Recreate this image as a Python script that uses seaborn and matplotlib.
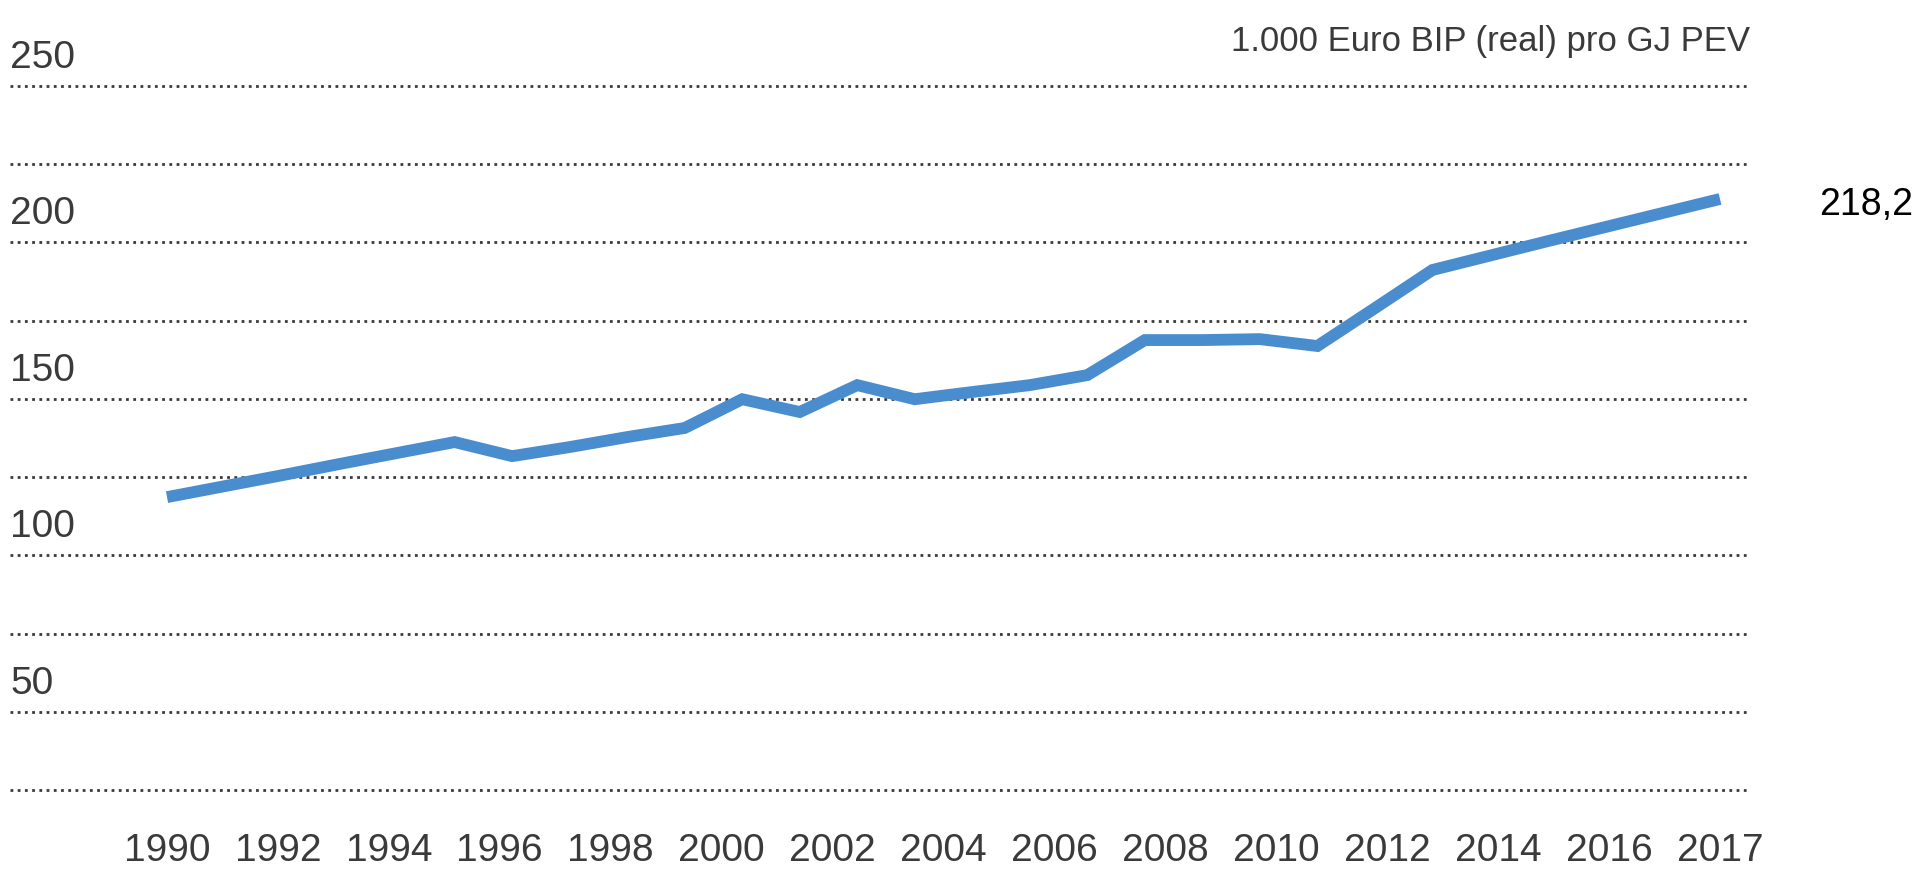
"""
Energy productivity line chart: 1.000 Euro BIP (real) pro GJ PEV, 1990-2017.
"""

import matplotlib

matplotlib.use("Agg")

import matplotlib.pyplot as plt
import numpy as np
import pandas as pd
import seaborn as sns
from matplotlib import font_manager

# --- data ------------------------------------------------------------------
years = list(range(1990, 2018))
values = [
    118.6, 122.1, 125.6, 129.2, 132.7, 136.2, 131.7, 134.6, 137.8, 140.7,
    149.9, 145.8, 154.4, 149.9, 152.2, 154.4, 157.6, 168.8, 168.8, 169.1,
    166.9, 179.0, 191.2, 195.8, 200.4, 204.9, 209.4, 213.9,
]
tick_labels = [
    "1990", "1992", "1994", "1996", "1998", "2000", "2002", "2004",
    "2006", "2008", "2010", "2012", "2014", "2016", "2017",
]
grid_values = [25, 50, 75, 100, 125, 150, 175, 200, 225, 250]
y_labels = [50, 100, 150, 200, 250]
unit_label = "1.000 Euro BIP (real) pro GJ PEV"
end_label = "218,2"

LINE_COLOR = "#4a8dcf"
TEXT_COLOR = "#3a3a3a"
GRID_COLOR = "#3a3a3a"

df = pd.DataFrame({"year": years, "value": values})

sns.set_style("white")

# a narrow face is closest to the condensed type of the original
installed = {f.name for f in font_manager.fontManager.ttflist}
if "Liberation Sans Narrow" in installed:
    label_font, label_size, title_size = "Liberation Sans Narrow", 33, 30
elif "DejaVu Sans Condensed" in installed:
    label_font, label_size, title_size = "DejaVu Sans Condensed", 27, 24
else:
    label_font, label_size, title_size = "Liberation Sans", 28, 25
plain_font = "Liberation Sans" if "Liberation Sans" in installed else "DejaVu Sans"
plt.rcParams["font.family"] = [label_font, "DejaVu Sans"]

fig = plt.figure(figsize=(19.23, 8.82), dpi=100)
ax = fig.add_axes([0.0052, 0.0866, 0.9048, 0.8336])

sns.lineplot(
    data=df, x="year", y="value", ax=ax,
    color=LINE_COLOR, linewidth=8.5, solid_joinstyle="miter",
    solid_capstyle="butt", zorder=3,
)

# dotted horizontal guides
ax.set_yticks(grid_values)
ax.yaxis.grid(True, color=GRID_COLOR, linestyle=(0, (1, 1.6)), linewidth=2.0)
ax.xaxis.grid(False)
ax.tick_params(axis="y", left=False, labelleft=False)
ax.set_ylim(grid_values[0] - 5, grid_values[-1] + 5)

# year labels are spread evenly, as in the original layout
ax.set_xticks(np.linspace(years[0], years[-1], len(tick_labels)))
ax.set_xticklabels(tick_labels)
ax.tick_params(axis="x", bottom=False, pad=16, labelsize=label_size, labelcolor=TEXT_COLOR)
ax.set_xlim(years[0] - 2.73, years[-1] + 0.52)

for v in y_labels:
    ax.annotate(
        str(v), xy=(0, v), xycoords=("axes fraction", "data"),
        xytext=(0, 13), textcoords="offset points",
        ha="left", va="baseline", fontsize=label_size, color=TEXT_COLOR,
    )

ax.annotate(
    unit_label, xy=(1, 1), xycoords="axes fraction",
    xytext=(0, 21), textcoords="offset points",
    ha="right", va="center", fontsize=title_size, color=TEXT_COLOR,
)

ax.annotate(
    end_label, xy=(1, values[-1]), xycoords=("axes fraction", "data"),
    xytext=(50, -4), textcoords="offset points",
    ha="left", va="center", fontsize=27, color="black", family=plain_font,
    annotation_clip=False,
)

ax.set_xlabel("")
ax.set_ylabel("")
sns.despine(ax=ax, left=True, bottom=True)

fig.savefig("out.png", dpi=100)
plt.close(fig)
